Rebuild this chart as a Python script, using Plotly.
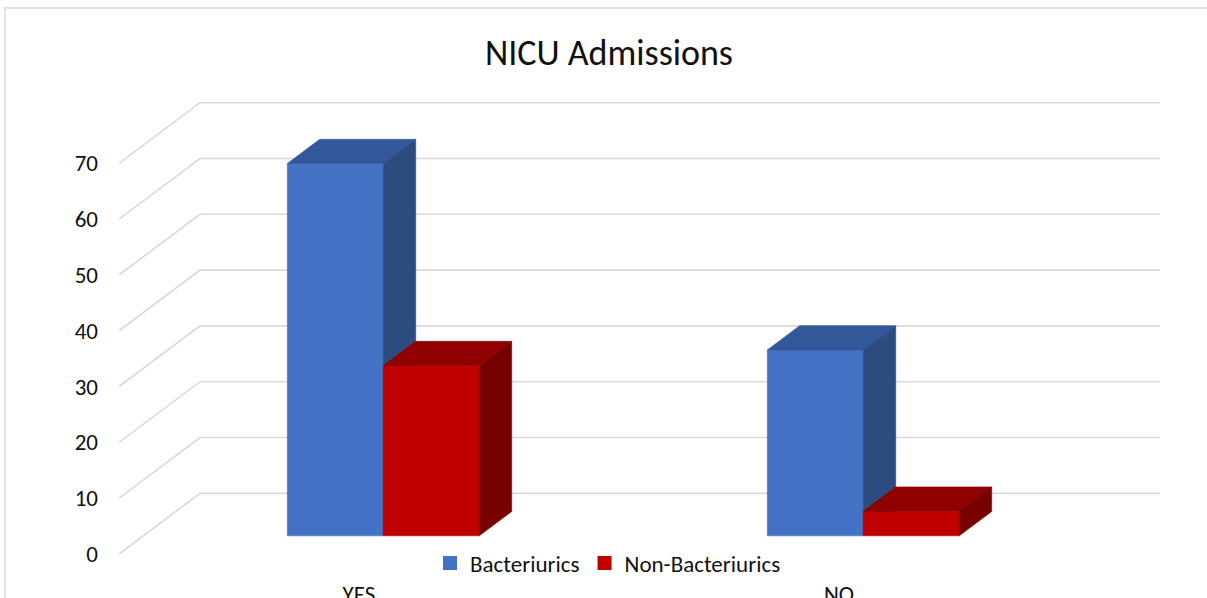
import plotly.graph_objects as go

# ---------------- data ----------------
categories = ["YES", "NO"]
series_names = ["Bacteriurics", "Non-Bacteriurics"]
bacteriurics = [66.7, 33.3]
non_bacteriurics = [30.5, 4.4]
y_tick_values = [0, 10, 20, 30, 40, 50, 60, 70]
chart_title = "NICU Admissions"

# ---------------- styling / geometry ----------------
W, H = 1207, 598
M_L, M_R, M_T, M_B = 119, 47, 90, 20
PX_PER_UNIT = 5.58           # vertical pixels per value unit
FRONT_ZERO_PX = 554          # pixel row of value 0 on the front plane
DEPTH_X = 0.16875            # oblique depth in category units
DEPTH_Y = 60.7 / PX_PER_UNIT  # oblique depth in value units
F0, F1 = 0.30, 0.70          # bar front / back depth fraction
BAR_W = 0.2
FONT = "Calibri, Carlito, Lato, sans-serif"
GRID = "#D9D9D9"
TXT = "#111111"

face_colors = {
    "Bacteriurics": {"front": "#4472C4", "top": "#33589A", "side": "#2C4C80"},
    "Non-Bacteriurics": {"front": "#C00000", "top": "#900000", "side": "#770000"},
}

plot_w = W - M_L - M_R
plot_h = H - M_T - M_B
y_lo = -(H - M_B - FRONT_ZERO_PX) / PX_PER_UNIT
y_hi = (FRONT_ZERO_PX - M_T) / PX_PER_UNIT
x_lo, x_hi = -0.5, len(categories) - 0.5 + DEPTH_X

fig = go.Figure()

# gridlines: front-left diagonal then along the back wall
gx, gy = [], []
for v in y_tick_values:
    gx += [x_lo, x_lo + DEPTH_X, x_hi, None]
    gy += [v, v + DEPTH_Y, v + DEPTH_Y, None]
fig.add_trace(go.Scatter(x=gx, y=gy, mode="lines",
                         line=dict(color=GRID, width=1.6),
                         hoverinfo="skip", showlegend=False))

a0, b0 = F0 * DEPTH_X, F0 * DEPTH_Y
a1, b1 = F1 * DEPTH_X, F1 * DEPTH_Y


def add_face(xs, ys, color, name, v):
    fig.add_trace(go.Scatter(
        x=xs + [xs[0]], y=ys + [ys[0]], mode="lines", fill="toself",
        fillcolor=color, line=dict(color=color, width=0.6),
        name=name, hoverinfo="text", text=f"{name}: {v}",
        showlegend=False))


series_values = [bacteriurics, non_bacteriurics]
for i, cat in enumerate(categories):
    for s, name in enumerate(series_names):
        v = series_values[s][i]
        x0 = i - BAR_W + s * BAR_W
        x1 = x0 + BAR_W
        c = face_colors[name]
        # front face
        add_face([x0 + a0, x1 + a0, x1 + a0, x0 + a0],
                 [b0, b0, v + b0, v + b0], c["front"], name, v)
        # top face
        add_face([x0 + a0, x1 + a0, x1 + a1, x0 + a1],
                 [v + b0, v + b0, v + b1, v + b1], c["top"], name, v)
        # side face
        add_face([x1 + a0, x1 + a1, x1 + a1, x1 + a0],
                 [b0, b1, v + b1, v + b0], c["side"], name, v)

# legend entries
for name in series_names:
    fig.add_trace(go.Scatter(
        x=[None], y=[None], mode="markers", name=name,
        marker=dict(symbol="square", size=14, color=face_colors[name]["front"]),
        showlegend=True))

# outer chart border (cropped at right/bottom like the reference)
fig.add_shape(type="rect", xref="paper", yref="paper",
              x0=(5 - M_L) / plot_w, x1=(W + 20 - M_L) / plot_w,
              y0=(H - M_B - (H + 20)) / plot_h, y1=(H - M_B - 8) / plot_h,
              line=dict(color=GRID, width=1.5), fillcolor="rgba(0,0,0,0)", layer="below")

fig.update_layout(
    width=W, height=H,
    margin=dict(l=M_L, r=M_R, t=M_T, b=M_B),
    paper_bgcolor="white", plot_bgcolor="white",
    font=dict(family=FONT, color=TXT, size=23),
    title=dict(text=chart_title, x=609 / W, xref="container", xanchor="center",
               y=1 - 52 / H, yref="container", yanchor="middle",
               font=dict(family=FONT, size=36, color=TXT)),
    xaxis=dict(range=[x_lo, x_hi], tickvals=list(range(len(categories))),
               ticktext=categories, showgrid=False, zeroline=False,
               showline=False, ticks="", automargin=False,
               tickfont=dict(size=23), fixedrange=True),
    yaxis=dict(range=[y_lo, y_hi], tickvals=y_tick_values, showgrid=False,
               zeroline=False, showline=False, ticks="", automargin=False,
               ticklabelstandoff=20, tickfont=dict(size=23), fixedrange=True),
    legend=dict(orientation="h", x=(608 - M_L) / plot_w, xanchor="center",
                y=(H - M_B - 563) / plot_h, yanchor="middle",
                bgcolor="rgba(0,0,0,0)", font=dict(size=23), itemwidth=30),
    showlegend=True,
)

fig.write_html("out.html",
               config={"displayModeBar": False},
               post_script="document.body.style.margin='0';document.body.style.padding='0';")
